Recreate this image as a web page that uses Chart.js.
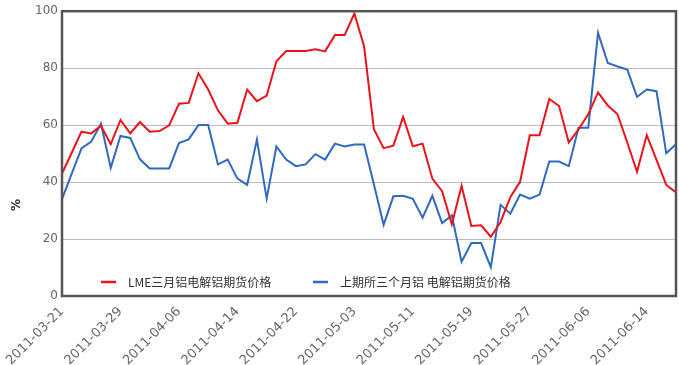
<!DOCTYPE html>
<html lang="zh-CN">
<head>
<meta charset="UTF-8"/>
<title>LME与上期所铝期货价格</title>
<script src="https://cdn.jsdelivr.net/npm/chart.js@4.4.2/dist/chart.umd.min.js"></script>
<style>
body{margin:0;background:#fff}
canvas{display:block}
</style>
</head>
<body>
<canvas id="chart" width="679" height="365"></canvas>
<script>
const dates=["2011-03-21","2011-03-22","2011-03-23","2011-03-24","2011-03-25","2011-03-28","2011-03-29","2011-03-30","2011-03-31","2011-04-01",
"2011-04-04","2011-04-05","2011-04-06","2011-04-07","2011-04-08","2011-04-11","2011-04-12","2011-04-13","2011-04-14","2011-04-15",
"2011-04-18","2011-04-19","2011-04-20","2011-04-21","2011-04-22","2011-04-25","2011-04-26","2011-04-27","2011-04-28","2011-04-29",
"2011-05-03","2011-05-04","2011-05-05","2011-05-06","2011-05-09","2011-05-10","2011-05-11","2011-05-12","2011-05-13","2011-05-16",
"2011-05-17","2011-05-18","2011-05-19","2011-05-20","2011-05-23","2011-05-24","2011-05-25","2011-05-26","2011-05-27","2011-05-30",
"2011-05-31","2011-06-01","2011-06-02","2011-06-03","2011-06-06","2011-06-07","2011-06-08","2011-06-09","2011-06-10","2011-06-13",
"2011-06-14","2011-06-15","2011-06-16","2011-06-17"];
const lme=[43.0,50.3,57.7,57.1,59.8,53.3,61.8,57.1,61.1,57.7,
57.9,59.9,67.5,67.8,78.2,72.5,65.2,60.5,60.8,72.5,
68.4,70.4,82.4,86.0,86.0,86.0,86.6,85.9,91.6,91.6,
99.2,87.6,58.6,51.9,52.8,62.9,52.6,53.5,41.2,36.8,
25.2,38.7,24.6,24.8,20.8,26.0,34.7,40.1,56.4,56.4,
69.2,66.7,53.9,58.5,63.8,71.5,66.9,63.8,53.9,43.6,
56.5,47.8,39.0,36.4];
const shfe=[34.0,43.0,51.8,54.2,60.5,45.0,56.2,55.5,48.0,44.8,
44.8,44.8,53.7,55.0,60.0,60.0,46.2,47.9,41.2,39.0,
54.9,34.2,52.5,47.9,45.6,46.2,49.8,47.9,53.5,52.5,
53.2,53.2,39.2,25.0,35.0,35.2,34.1,27.5,35.2,25.6,
28.3,12.0,18.6,18.6,10.1,32.0,28.9,35.6,34.2,35.6,
47.2,47.2,45.6,59.1,59.1,92.4,81.8,80.6,79.5,69.9,
72.5,71.9,50.1,53.3];
const seriesNames=["LME三月铝电解铝期货价格","上期所三个月铝 电解铝期货价格"];
const yTitle="%";
const labelEvery=6;

// frame, legend inside the plot and the "%" title
const extras={id:"extras",
  afterDatasetsDraw(c){
    const a=c.chartArea,x=c.ctx;
    x.save();
    x.strokeStyle="#555";x.lineWidth=2.5;
    x.strokeRect(a.left,a.top,a.right-a.left,a.bottom-a.top);
    x.font='12px "Noto Sans CJK SC"';x.textBaseline="middle";x.fillStyle="#333";
    const ly=a.bottom-14,lx=[a.left+39,a.left+251];
    c.data.datasets.forEach((d,i)=>{
      x.strokeStyle=d.borderColor;x.lineWidth=2.5;
      x.beginPath();x.moveTo(lx[i],ly);x.lineTo(lx[i]+15,ly);x.stroke();
      x.fillText(d.label,lx[i]+27,ly);
    });
    x.translate(17,205);x.rotate(-Math.PI/2);
    x.font='bold 12px "DejaVu Sans"';x.textAlign="center";x.fillStyle="#333";
    x.fillText(yTitle,0,0);
    x.restore();
  }};

new Chart(document.getElementById("chart"),{type:"line",
  data:{labels:dates,datasets:[
    {label:seriesNames[0],data:lme,borderColor:"#e8141c",borderWidth:2,pointRadius:0,tension:0,fill:false},
    {label:seriesNames[1],data:shfe,borderColor:"#3069bf",borderWidth:2,pointRadius:0,tension:0,fill:false}
  ]},
  options:{responsive:false,animation:false,
    layout:{padding:{top:10,right:3,left:0,bottom:0}},
    plugins:{legend:{display:false},tooltip:{enabled:false}},
    scales:{
      x:{offset:false,grid:{display:false},border:{display:false},
        ticks:{autoSkip:false,maxRotation:45,minRotation:45,padding:0,color:"#666",font:{family:"DejaVu Sans",size:13},
          callback:(v,i)=>i%labelEvery===0?dates[i]:null},
        afterFit:s=>{s.height=69}},
      y:{min:0,max:100,border:{display:false},
        grid:{color:"#bbb",drawTicks:false},
        ticks:{stepSize:20,padding:4,color:"#666",font:{family:"DejaVu Sans",size:12}},
        afterFit:s=>{s.width=62}}
    }},
  plugins:[extras]
});
</script>
</body>
</html>
